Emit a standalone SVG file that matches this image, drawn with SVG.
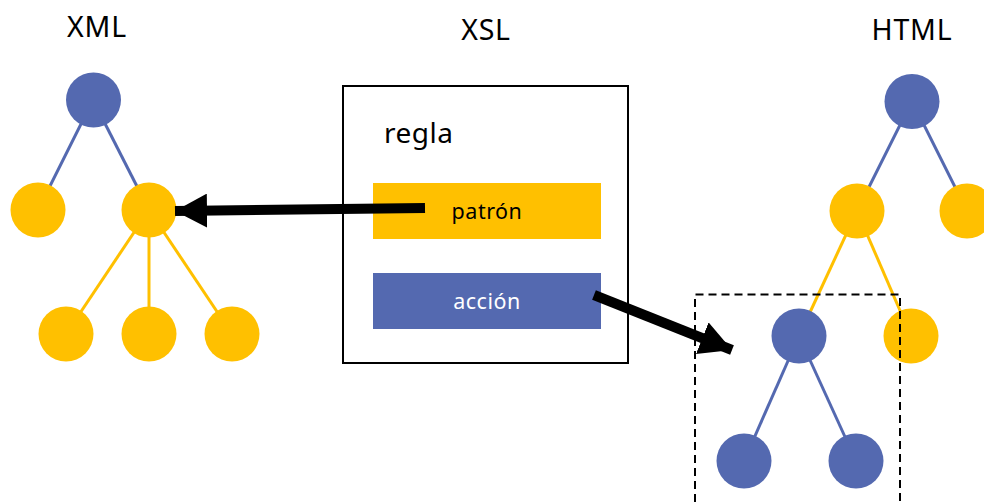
<svg xmlns="http://www.w3.org/2000/svg" width="984" height="502" viewBox="0 0 984 502">
<style>
.t{font-family:"Noto Sans","Open Sans",sans-serif;fill:#000}
.b{fill:#5469B0}
.y{fill:#FFC000}
.lb{stroke:#5469B0;stroke-width:3;fill:none}
.ly{stroke:#FFC000;stroke-width:3;fill:none}
.arr{stroke:#000;stroke-width:10;fill:none}
</style>
<defs>
<marker id="ah" markerWidth="3.2" markerHeight="3.4" refX="3.2" refY="1.7" orient="auto" markerUnits="strokeWidth">
<path d="M0,0 L3.2,1.7 L0,3.4 Z" fill="#000"/>
</marker>
</defs>
<rect width="984" height="502" fill="#fff"/>
<g id="labels">
<text class="t" x="97" y="37" font-size="28.5" text-anchor="middle" letter-spacing="0.8">XML</text>
<text class="t" x="486" y="40" font-size="28.5" text-anchor="middle" letter-spacing="0.8">XSL</text>
<text class="t" x="912" y="40" font-size="28.5" text-anchor="middle" letter-spacing="0.8">HTML</text>
</g>
<g id="xml-edges">
<line class="lb" x1="93" y1="100" x2="38" y2="210"/>
<line class="lb" x1="93" y1="100" x2="149" y2="210"/>
<line class="ly" x1="149" y1="210" x2="66" y2="334"/>
<line class="ly" x1="149" y1="210" x2="149" y2="334"/>
<line class="ly" x1="149" y1="210" x2="232" y2="334"/>
</g>
<g id="xml-root"><circle class="b" cx="93.5" cy="100" r="27.5"/></g>
<g id="xml-c1"><circle class="y" cx="38" cy="210" r="27.5"/></g>
<g id="xml-c2"><circle class="y" cx="149" cy="210" r="27.5"/></g>
<g id="xml-g1"><circle class="y" cx="66" cy="334" r="27.5"/></g>
<g id="xml-g2"><circle class="y" cx="149" cy="334" r="27.5"/></g>
<g id="xml-g3"><circle class="y" cx="232" cy="334" r="27.5"/></g>
<g id="regla">
<rect x="343" y="86" width="285" height="277" fill="#fff" stroke="#000" stroke-width="2"/>
<text class="t" x="384" y="143" font-size="28" letter-spacing="0.5">regla</text>
</g>
<g id="patron">
<rect x="373" y="183" width="228" height="56" fill="#FFC000"/>
<text class="t" x="487" y="219" font-size="21.5" text-anchor="middle" letter-spacing="0.5">patrón</text>
</g>
<g id="accion">
<rect x="373" y="273" width="228" height="56" fill="#5469B0"/>
<text class="t" x="487" y="309" font-size="21.5" text-anchor="middle" letter-spacing="0.5" style="fill:#fff">acción</text>
</g>
<g id="html-edges">
<line class="lb" x1="912" y1="101" x2="857" y2="211"/>
<line class="lb" x1="912" y1="101" x2="967" y2="211"/>
<line class="ly" x1="857" y1="211" x2="799" y2="336"/>
<line class="ly" x1="857" y1="211" x2="911" y2="336"/>
<line class="lb" x1="799" y1="336" x2="744" y2="461"/>
<line class="lb" x1="799" y1="336" x2="856" y2="461"/>
</g>
<g id="html-root"><circle class="b" cx="912" cy="101.5" r="27.5"/></g>
<g id="html-c1"><circle class="y" cx="857" cy="211" r="27.5"/></g>
<g id="html-c2"><circle class="y" cx="967" cy="211" r="27.5"/></g>
<g id="html-g1"><circle class="b" cx="799" cy="336" r="27.5"/></g>
<g id="html-g2"><circle class="y" cx="911" cy="336" r="27.5"/></g>
<g id="html-gg1"><circle class="b" cx="744" cy="461" r="27.5"/></g>
<g id="html-gg2"><circle class="b" cx="856" cy="461" r="27.5"/></g>
<g id="selection">
<path d="M695,502 V294.5 H900 V502" fill="none" stroke="#000" stroke-width="2" stroke-dasharray="8,5"/>
</g>
<g id="connectors">
<line class="arr" x1="425" y1="208" x2="175" y2="211" marker-end="url(#ah)"/>
<line class="arr" x1="594" y1="295" x2="732" y2="350" marker-end="url(#ah)"/>
</g>
</svg>
